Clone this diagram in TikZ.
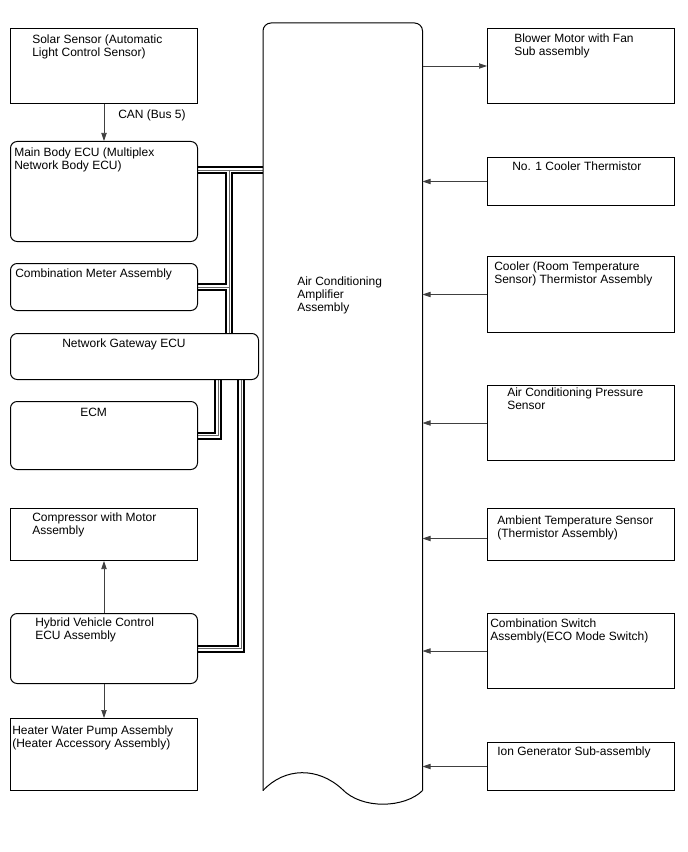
\documentclass[tikz,border=0pt]{standalone}
\usepackage{fontspec}
\setmainfont{Liberation Sans}
\usetikzlibrary{arrows.meta}
\usetikzlibrary{backgrounds}

\tikzset{
  unit/.style={draw, line width=0.75pt, anchor=north west, inner sep=0pt, minimum width=140.25pt},
  ecu/.style={unit, rounded corners=5pt},
  txt/.style={anchor=north west, inner sep=0pt, align=left},
  sig/.style={draw=black!75, line width=0.5pt, -{Triangle[length=6pt,width=4pt]}},
  bus/.style={draw, line width=6pt, line join=miter,
    postaction={draw=white, line width=3pt},
    postaction={draw=black!60, line width=0.4pt}}
}

\begin{document}
\begin{tikzpicture}[x=0.75pt, y=-0.75pt, every node/.style={font=\fontsize{9}{9.6}\selectfont}]
  \useasboundingbox (0,0) rectangle (688,852);

  % left column
  \node [unit, minimum height=56.25pt] (solar) at (10,28) {};
  \node [ecu, minimum height=75pt] (mainbody) at (10,141) {};
  \node [ecu, minimum height=35.25pt] (combmeter) at (10,263) {};
  \node [ecu, minimum height=34.5pt, minimum width=186pt] (gateway) at (10,333) {};
  \node [ecu, minimum height=51pt] (ecm) at (10,401) {};
  \node [unit, minimum height=39pt] (compressor) at (10,508) {};
  \node [ecu, minimum height=52.5pt] (hv) at (10,613) {};
  \node [unit, minimum height=54pt] (heater) at (10,718) {};

  \node [txt] (solar-t) at ([shift={(22,7)}]solar.north west) {Solar Sensor (Automatic\\Light Control Sensor)};
  \node [txt] (mainbody-t) at ([shift={(4,7)}]mainbody.north west) {Main Body ECU (Multiplex\\Network Body ECU)};
  \node [txt] (combmeter-t) at ([shift={(5,6)}]combmeter.north west) {Combination Meter Assembly};
  \node [txt] (gateway-t) at ([shift={(52,6)}]gateway.north west) {Network Gateway ECU};
  \node [txt] (ecm-t) at ([shift={(70,7)}]ecm.north west) {ECM};
  \node [txt] (compressor-t) at ([shift={(22,5)}]compressor.north west) {Compressor with Motor\\Assembly};
  \node [txt] (hv-t) at ([shift={(25,5)}]hv.north west) {Hybrid Vehicle Control\\ECU Assembly};
  \node [txt] (heater-t) at ([shift={(2,8)}]heater.north west) {Heater Water Pump Assembly\\(Heater Accessory Assembly)};

  % amplifier
  \node [inner sep=0pt, minimum width=119.25pt, minimum height=575.25pt, anchor=north west] (amp) at (263,23) {};
  \draw [line width=0.75pt, rounded corners=6pt] (amp.south west) -- (amp.north west) -- (amp.north east) -- (amp.south east);
  \draw [line width=0.75pt] (amp.south west) .. controls (285,767) and (318,767) .. (342,789)
        .. controls (362,810) and (405,808) .. (amp.south east);
  \node [txt] (amp-t) at (297,277) {Air Conditioning\\Amplifier\\Assembly};

  % right column
  \node [unit, minimum height=56.25pt] (blower) at (487,28) {};
  \node [unit, minimum height=36pt] (cooler1) at (487,157) {};
  \node [unit, minimum height=57pt] (roomtemp) at (487,256) {};
  \node [unit, minimum height=56.25pt] (pressure) at (487,385) {};
  \node [unit, minimum height=39pt] (ambient) at (487,508) {};
  \node [unit, minimum height=56.25pt] (ecoswitch) at (487,613) {};
  \node [unit, minimum height=36pt] (iongen) at (487,742) {};

  \node [txt] (blower-t) at ([shift={(27,6)}]blower.north west) {Blower Motor with Fan\\Sub assembly};
  \node [txt] (cooler1-t) at ([shift={(25,5)}]cooler1.north west) {No. 1 Cooler Thermistor};
  \node [txt] (roomtemp-t) at ([shift={(7,6)}]roomtemp.north west) {Cooler (Room Temperature\\Sensor) Thermistor Assembly};
  \node [txt] (pressure-t) at ([shift={(20,3)}]pressure.north west) {Air Conditioning Pressure\\Sensor};
  \node [txt] (ambient-t) at ([shift={(10,8)}]ambient.north west) {Ambient Temperature Sensor\\(Thermistor Assembly)};
  \node [txt] (ecoswitch-t) at ([shift={(3,6)}]ecoswitch.north west) {Combination Switch\\Assembly(ECO Mode Switch)};
  \node [txt] (iongen-t) at ([shift={(10,5)}]iongen.north west) {Ion Generator Sub-assembly};

  % signal lines
  \draw [sig] (solar.south) -- (mainbody.north);
  \node [txt] (can) at ([shift={(14,6)}]solar.south) {CAN (Bus 5)};
  \draw [sig] (hv.north) -- (compressor.south);
  \draw [sig] (hv.south) -- (heater.north);

  \draw [sig] (blower.west -| amp.east) -- (blower.west);
  \draw [sig] (cooler1.west) -- (cooler1.west -| amp.east);
  \draw [sig] (roomtemp.west) -- (roomtemp.west -| amp.east);
  \draw [sig] (pressure.west) -- (pressure.west -| amp.east);
  \draw [sig] ([yshift=-3pt]ambient.west) -- ([yshift=-3pt]ambient.west -| amp.east);
  \draw [sig] (ecoswitch.west) -- (ecoswitch.west -| amp.east);
  \draw [sig] (iongen.west) -- (iongen.west -| amp.east);

  % CAN bus
  \coordinate (mb) at ([shift={(0,29)}]mainbody.north east);
  \coordinate (tk) at (229,170);
  \coordinate (busL) at (218,379);
  \coordinate (busR) at (241,379);
  \begin{pgfonlayer}{background}
    \draw [bus] (mb) -- (mb -| amp.west)
                (tk) |- (combmeter.east)
                (tk) -- (tk |- gateway.north)
                (busL) |- (ecm.east)
                (busR) |- (hv.east);
  \end{pgfonlayer}
\end{tikzpicture}
\end{document}
